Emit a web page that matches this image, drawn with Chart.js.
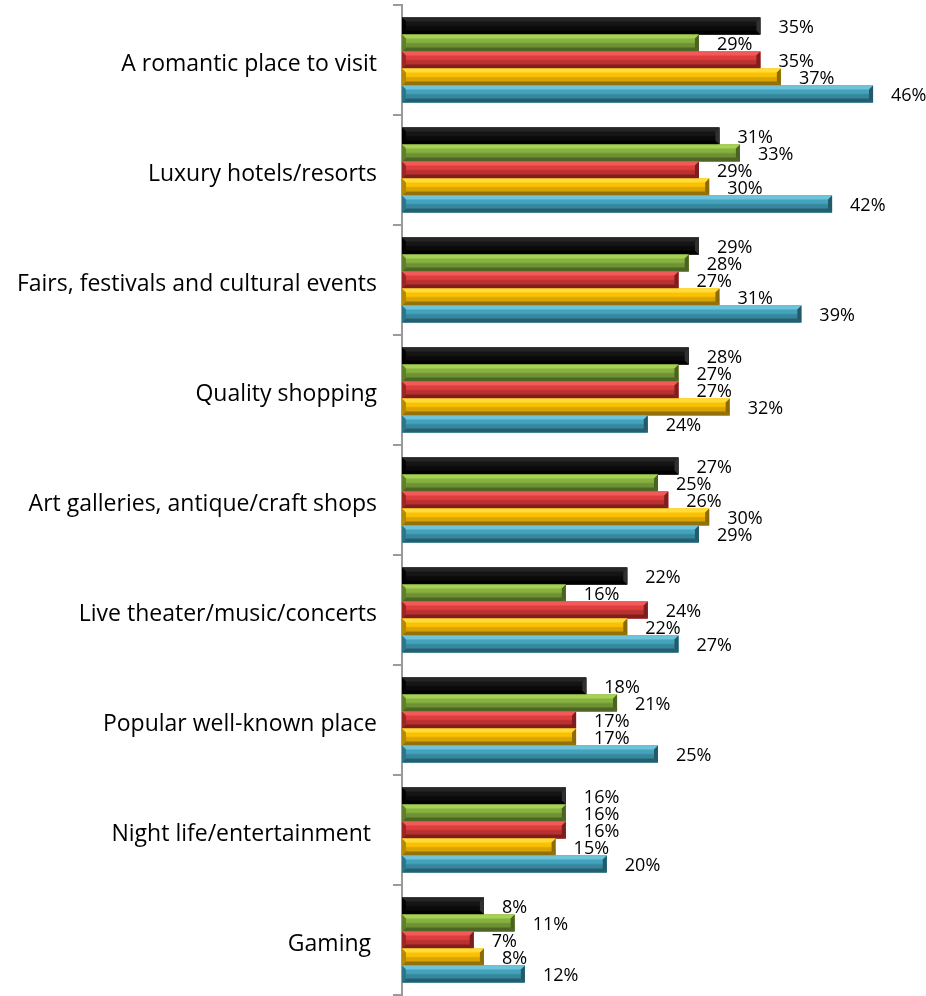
<!DOCTYPE html>
<html>
<head>
<meta charset="utf-8">
<title>Trip attractions</title>
<script src="https://cdn.jsdelivr.net/npm/chart.js"></script>
<style>
    html, body { margin: 0; padding: 0; background: #fff; }
    #wrap { width: 926px; height: 996px; }
</style>
</head>
<body>
<div id="wrap"><canvas id="chart" width="926" height="996"></canvas></div>
<script>
// categories, top to bottom
const categories = [
    'A romantic place to visit',
    'Luxury hotels/resorts',
    'Fairs, festivals and cultural events',
    'Quality shopping',
    'Art galleries, antique/craft shops',
    'Live theater/music/concerts',
    'Popular well-known place',
    'Night life/entertainment ',
    'Gaming '
];

// percent per series, same order as categories
const seriesBlack  = [35, 31, 29, 28, 27, 22, 18, 16, 8];
const seriesGreen  = [29, 33, 28, 27, 25, 16, 21, 16, 11];
const seriesRed    = [35, 29, 27, 27, 26, 24, 17, 16, 7];
const seriesYellow = [37, 30, 31, 32, 30, 22, 17, 15, 8];
const seriesBlue   = [46, 42, 39, 24, 29, 27, 25, 20, 12];

// bevel palette: light top edge, face, lower face, dark bottom edge, end caps
const palettes = [
    { top: '#262626', face: '#151515', low: '#0a0a0a', bottom: '#000000', left: '#030303', right: '#303030' },
    { top: '#a6d152', face: '#86b140', low: '#6e9233', bottom: '#4d6624', left: '#5f7f2c', right: '#4a6322' },
    { top: '#f25a5a', face: '#de3d3d', low: '#b83030', bottom: '#7e1f1f', left: '#9a2626', right: '#7a1e1e' },
    { top: '#ffdc3a', face: '#fbc100', low: '#d9a300', bottom: '#94700a', left: '#b38a06', right: '#8c6a08' },
    { top: '#6cc3da', face: '#43a3bd', low: '#36879d', bottom: '#245f6f', left: '#2d7587', right: '#235a69' }
];

const seriesData = [seriesBlack, seriesGreen, seriesRed, seriesYellow, seriesBlue];

// draws the beveled look over each bar, from the bar element geometry
const bevelBars = {
    id: 'bevelBars',
    afterDatasetsDraw(chart) {
        const ctx = chart.ctx;
        chart.data.datasets.forEach((ds, i) => {
            const meta = chart.getDatasetMeta(i);
            const p = palettes[i];
            meta.data.forEach(bar => {
                const l = Math.min(bar.base, bar.x);
                const r = Math.max(bar.base, bar.x);
                const t = bar.y - bar.height / 2;
                const b = bar.y + bar.height / 2;
                const d = Math.min(4, (r - l) / 2);
                ctx.save();
                const g = ctx.createLinearGradient(0, t, 0, b);
                g.addColorStop(0, p.face);
                g.addColorStop(0.45, p.face);
                g.addColorStop(0.55, p.low);
                g.addColorStop(1, p.low);
                ctx.fillStyle = g;
                ctx.fillRect(l, t, r - l, b - t);

                const poly = (pts, color) => {
                    ctx.beginPath();
                    ctx.moveTo(pts[0][0], pts[0][1]);
                    for (let k = 1; k < pts.length; k++) ctx.lineTo(pts[k][0], pts[k][1]);
                    ctx.closePath();
                    ctx.fillStyle = color;
                    ctx.fill();
                };
                poly([[l, t], [r, t], [r - d, t + d], [l + d, t + d]], p.top);
                poly([[l, b], [r, b], [r - d, b - d], [l + d, b - d]], p.bottom);
                poly([[l, t], [l + d, t + d], [l + d, b - d], [l, b]], p.left);
                poly([[r, t], [r - d, t + d], [r - d, b - d], [r, b]], p.right);
                ctx.restore();
            });
        });
    }
};

// value labels to the right of each bar
const valueLabels = {
    id: 'valueLabels',
    afterDatasetsDraw(chart) {
        const ctx = chart.ctx;
        ctx.save();
        ctx.font = '18px "Open Sans", sans-serif';
        ctx.fillStyle = '#000';
        ctx.textAlign = 'left';
        ctx.textBaseline = 'middle';
        chart.data.datasets.forEach((ds, i) => {
            chart.getDatasetMeta(i).data.forEach((bar, j) => {
                ctx.fillText(ds.data[j] + '%', bar.x + 18, bar.y + 2);
            });
        });
        ctx.restore();
    }
};

new Chart(document.getElementById('chart'), {
    type: 'bar',
    data: {
        labels: categories,
        datasets: seriesData.map((vals, i) => ({
            label: 'Series ' + (i + 1),
            data: vals,
            backgroundColor: palettes[i].face,
            borderWidth: 0,
            categoryPercentage: 0.773,
            barPercentage: 1
        }))
    },
    options: {
        indexAxis: 'y',
        responsive: false,
        animation: false,
        layout: { padding: { top: 5, right: 12, bottom: 1, left: 0 } },
        plugins: {
            legend: { display: false },
            tooltip: { enabled: false }
        },
        scales: {
            x: {
                display: false,
                min: 0,
                max: 50
            },
            y: {
                afterFit(scale) {
                    scale.width = 402;
                    scale.paddingTop = 0;
                    scale.paddingBottom = 0;
                },
                border: { display: true, color: '#9a9a9a', width: 2 },
                grid: {
                    offset: true,
                    drawOnChartArea: false,
                    drawTicks: true,
                    tickLength: 9,
                    color: '#9a9a9a',
                    lineWidth: 2
                },
                ticks: {
                    color: '#000',
                    padding: 16,
                    labelOffset: 4,
                    font: { family: '"Open Sans", sans-serif', size: 23 }
                }
            }
        }
    },
    plugins: [bevelBars, valueLabels]
});
</script>
</body>
</html>
